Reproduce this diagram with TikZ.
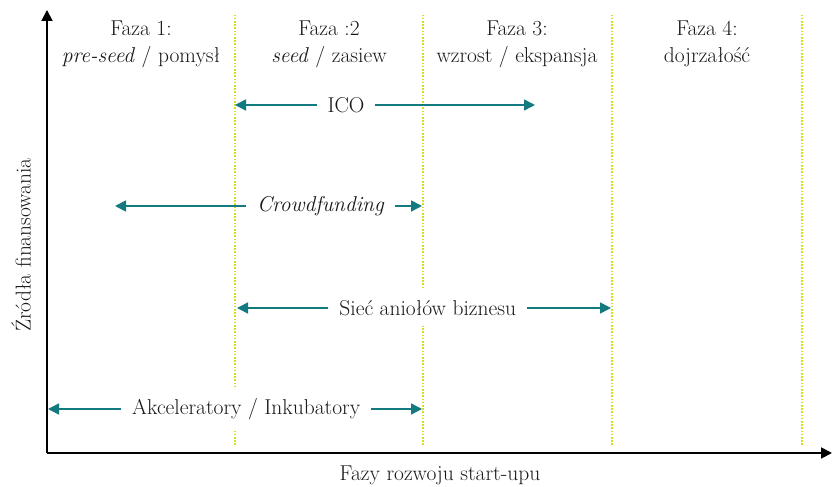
\documentclass[tikz,border=0pt]{standalone}
\usepackage{fontspec}
\usepackage{tikz}
\usetikzlibrary{arrows.meta}
\tikzset{>={Triangle[length=11pt,width=11pt]}}
\usepackage{xcolor}
\definecolor{t1}{HTML}{137A80}
\definecolor{y1}{HTML}{D4E01C}

\begin{document}
\begin{tikzpicture}[x=1pt,y=1pt,font=\fontsize{21.5}{27}\selectfont,
  faza/.style={y1,line width=1.6pt,dash pattern=on 1.6pt off 1.6pt},
  os/.style={->,line width=1.8pt},
  zrodlo/.style={<->,t1,line width=1.6pt},
  lbl/.style={fill=white,text=black!90,inner xsep=11pt,inner ysep=10pt}]
  \useasboundingbox (0,0) rectangle (833,487);
  \coordinate (O) at (47,34);
  % phase boundaries
  \foreach \x/\n in {235/1,423/2,612/3,802/4}
    \draw[faza] (\x,42) coordinate (b\n) --++ (0,430);
  % axes
  \coordinate (ytop) at (47,477);
  \coordinate (xend) at (832,34);
  \draw[os] (O) -- (ytop);
  \draw[os] (O) -- (xend);
  \node[rotate=90,text=black!90] (ylab) at (21,242) {Źródła finansowania};
  \node[text=black!90] (xlab) at (440,12) {Fazy rozwoju start-upu};
  % phases
  \node[align=center,text=black!90] (f1) at (141,443) {Faza 1:\\\textit{pre-seed} / pomysł};
  \node[align=center,text=black!90] (f2) at (329,443) {Faza :2\\\textit{seed} / zasiew};
  \node[align=center,text=black!90] (f3) at (517,443) {Faza 3:\\wzrost / ekspansja};
  \node[align=center,text=black!90] (f4) at (707,443) {Faza 4:\\dojrzałość};
  % sources of funding
  \coordinate (ico-l) at (235,382);
  \coordinate (ico-r) at (535,382);
  \draw[zrodlo] (ico-l) -- node[lbl,pos=.37] (ico) {ICO} (ico-r);
  \coordinate (cf-l) at (115,281);
  \coordinate (cf-r) at (422,281);
  \draw[zrodlo] (cf-l) -- node[lbl,pos=.67] (cf) {\textit{Crowdfunding}} (cf-r);
  \coordinate (ab-l) at (237,179);
  \coordinate (ab-r) at (611,179);
  \draw[zrodlo] (ab-l) -- node[lbl,pos=.51] (ab) {Sieć aniołów biznesu} (ab-r);
  \coordinate (ai-l) at (48,78);
  \coordinate (ai-r) at (422,78);
  \draw[zrodlo] (ai-l) -- node[lbl,pos=.53] (ai) {Akceleratory / Inkubatory} (ai-r);
\end{tikzpicture}
\end{document}
